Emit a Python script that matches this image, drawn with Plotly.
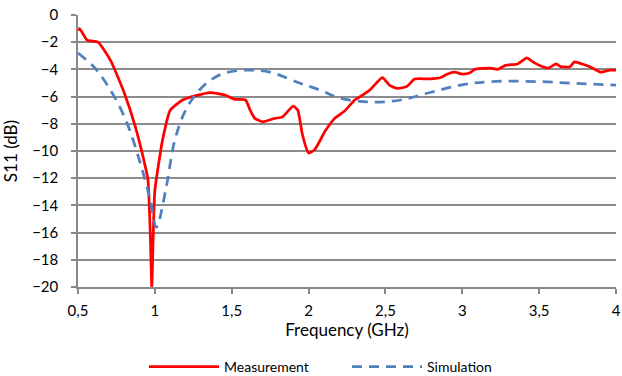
import plotly.graph_objects as go

meas_f = [0.5, 0.51, 0.56, 0.63, 0.71, 0.80, 0.87, 0.935, 0.955, 0.97, 0.98, 0.99, 1.0, 1.05, 1.1, 1.18, 1.26, 1.36,
          1.46, 1.52, 1.59, 1.62, 1.65, 1.70, 1.78, 1.83, 1.90, 1.93, 1.96, 2.0, 2.04, 2.11, 2.17, 2.24,
          2.30, 2.35, 2.40, 2.48, 2.53, 2.58, 2.64, 2.69, 2.79, 2.86, 2.90, 2.95, 3.0, 3.05, 3.08, 3.18,
          3.23, 3.28, 3.36, 3.42, 3.46, 3.5, 3.56, 3.61, 3.64, 3.70, 3.73, 3.78, 3.83, 3.90, 3.96, 4.0]
meas_db = [-1.15, -1.0, -1.85, -2.0, -3.3, -5.7, -8.1, -11.0, -12.1, -16.0, -20.0, -16.0, -12.9, -9.2, -7.0, -6.25, -5.95, -5.7,
           -5.9, -6.2, -6.25, -7.0, -7.6, -7.85, -7.6, -7.5, -6.7, -7.0, -8.8, -10.15, -9.9, -8.5, -7.6, -7.0,
           -6.25, -5.9, -5.5, -4.6, -5.2, -5.4, -5.25, -4.7, -4.7, -4.6, -4.35, -4.2, -4.35, -4.25, -4.0, -3.9,
           -4.0, -3.7, -3.6, -3.15, -3.45, -3.7, -3.9, -3.6, -3.8, -3.8, -3.45, -3.6, -3.8, -4.2, -4.05, -4.05]

sim_f = [0.5, 0.61, 0.71, 0.81, 0.90, 0.97, 1.01, 1.07, 1.13, 1.20, 1.28, 1.36, 1.46, 1.62, 1.75, 1.94,
         2.07, 2.2, 2.40, 2.6, 2.79, 2.99, 3.18, 3.5, 3.77, 4.0]
sim_db = [-2.8, -3.9, -5.5, -7.7, -10.7, -13.6, -15.6, -12.9, -9.2, -7.0, -5.65, -4.8, -4.25, -4.05, -4.2, -5.0,
          -5.5, -6.1, -6.4, -6.25, -5.7, -5.15, -4.9, -4.9, -5.05, -5.15]

x_ticks = [0.5, 1, 1.5, 2, 2.5, 3, 3.5, 4]
x_labels = ["0,5", "1", "1,5", "2", "2,5", "3", "3,5", "4"]
y_ticks = list(range(-20, 1, 2))

fig = go.Figure()
fig.add_trace(go.Scatter(x=meas_f, y=meas_db, mode="lines", name="Measurement",
                         line=dict(color="#ff0000", width=2.75, shape="spline", smoothing=0.5)))
fig.add_trace(go.Scatter(x=sim_f, y=sim_db, mode="lines", name="Simulation",
                         line=dict(color="#4f81bd", width=2.75, dash="10px,7px", shape="spline", smoothing=1.0)))

font = "Lato"
fig.update_layout(
    width=622, height=376,
    margin=dict(l=78, r=6, t=15, b=89, autoexpand=False),
    paper_bgcolor="white", plot_bgcolor="white",
    font=dict(family=font, size=13, color="#000000"),
    showlegend=True,
    legend=dict(orientation="h", x=0.5, xanchor="center", y=-0.235, yanchor="top",
                font=dict(size=14), itemwidth=70, entrywidth=118, entrywidthmode="pixels"),
    xaxis=dict(range=[0.5, 4], tickvals=x_ticks, ticktext=x_labels, showgrid=False,
               showline=True, linecolor="#888888", linewidth=1.5,
               ticks="outside", tickcolor="#888888", ticklen=5, tickwidth=1.5,
               tickfont=dict(size=15), zeroline=False, ticklabelstandoff=4,
               title=dict(text="Frequency (GHz)", font=dict(size=17), standoff=6)),
    yaxis=dict(range=[-20, 0], tickvals=y_ticks, showgrid=True, gridcolor="#8c8c8c", gridwidth=1.5,
               showline=True, linecolor="#888888", linewidth=1.5,
               ticks="outside", tickcolor="#888888", ticklen=5, tickwidth=1.5,
               tickfont=dict(size=15), zeroline=False, ticklabelstandoff=10,
               title=dict(text="S11 (dB)", font=dict(size=17), standoff=10)),
)
fig.write_html("out.html")
